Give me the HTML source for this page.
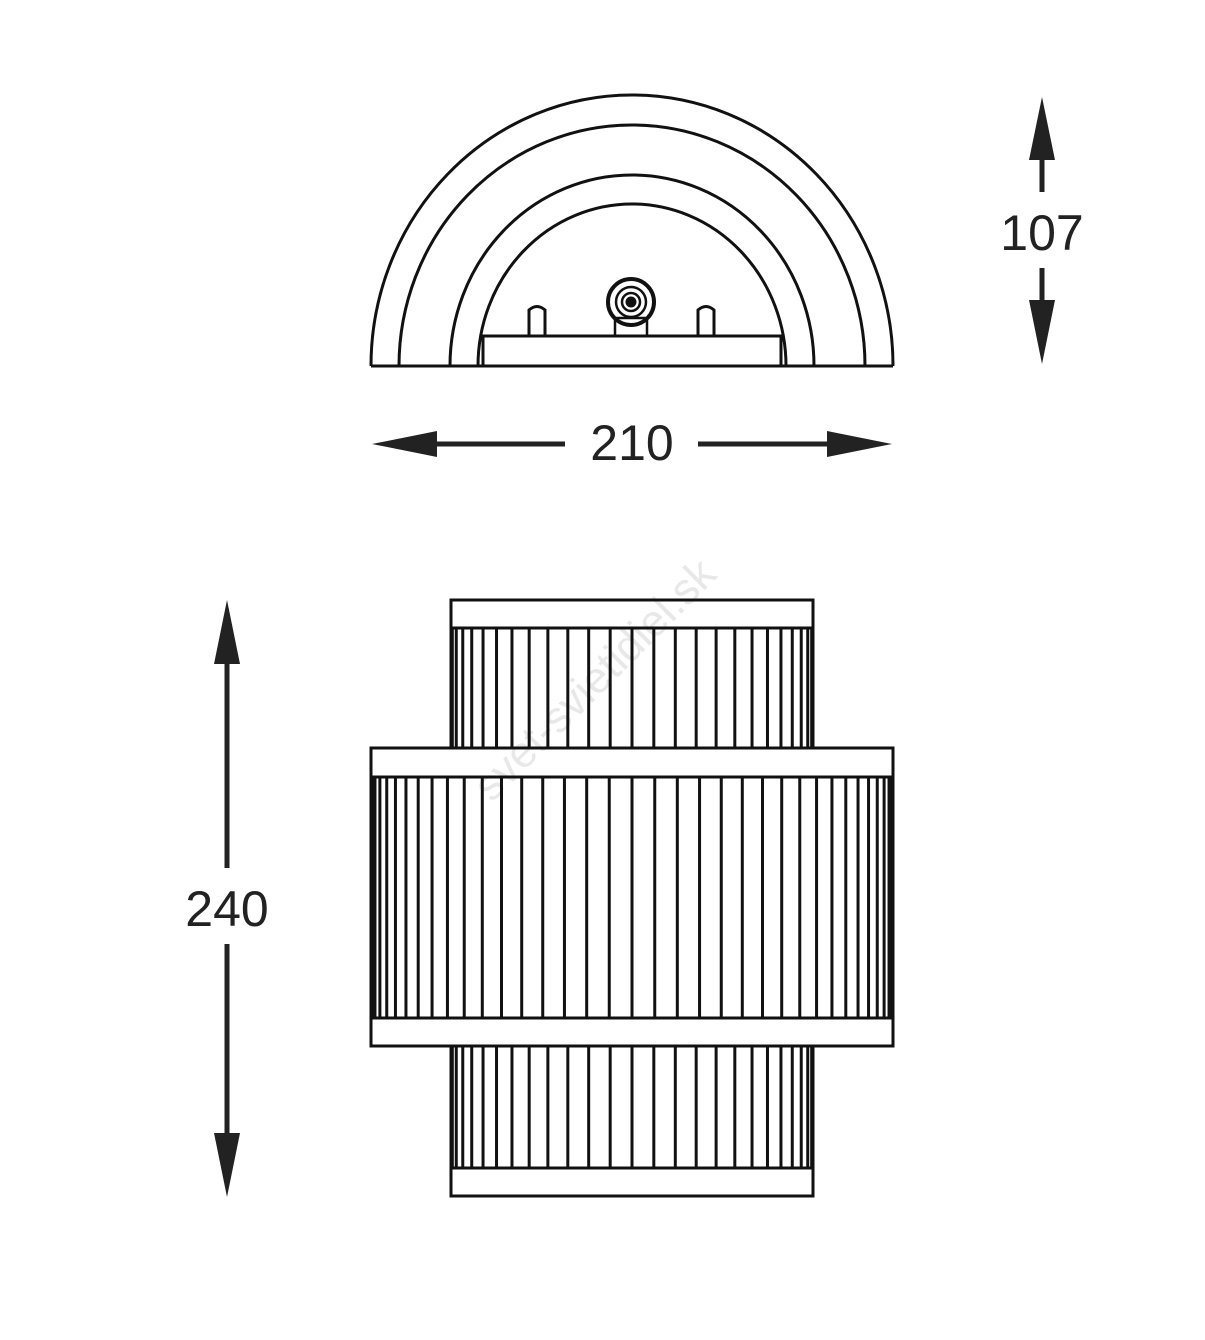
<!DOCTYPE html>
<html><head><style>
html,body{margin:0;padding:0;background:#fff;}
svg{display:block;}
text{font-family:"Liberation Sans",sans-serif;fill:#222;}
</style></head><body>
<svg id="s" width="1205" height="1340" viewBox="0 0 1205 1340" xmlns="http://www.w3.org/2000/svg">
<text x="605" y="690" font-size="44" style="fill:#e8e8e8" transform="rotate(-45 605 690)" text-anchor="middle">svet-svietidiel.sk</text>
<g fill="none" stroke="#111" stroke-width="3">
<path d="M371 366 A261 271 0 0 1 893 366"/>
<path d="M399 366 A233 241 0 0 1 865 366"/>
<path d="M450 366 A182 191 0 0 1 814 366"/>
<path d="M478 366 A154 162 0 0 1 786 366"/>
<line x1="371" y1="366" x2="893" y2="366"/>
<rect x="483" y="336" width="298" height="30"/>
<path d="M529 336 V310 Q537 303 545 310 V336"/>
<path d="M698 336 V310 Q706 303 714 310 V336"/>
<rect x="615" y="318" width="32" height="18" stroke-width="2.5"/>
<circle cx="631" cy="302" r="23" stroke-width="4"/>
<circle cx="631" cy="302" r="15" stroke-width="2.5"/>
<circle cx="631" cy="302" r="9" stroke-width="2.5"/>
<circle cx="631" cy="302" r="4" fill="#111"/>
<rect x="451" y="600" width="362" height="28"/>
<rect x="371" y="748" width="522" height="29"/>
<rect x="371" y="1018" width="522" height="28"/>
<rect x="451" y="1168" width="362" height="28"/>
<line x1="451" y1="628" x2="451" y2="748"/><line x1="813" y1="628" x2="813" y2="748"/>
<line x1="451" y1="1046" x2="451" y2="1168"/><line x1="813" y1="1046" x2="813" y2="1168"/>
<line x1="371" y1="777" x2="371" y2="1018"/><line x1="893" y1="777" x2="893" y2="1018"/>
<g id="rods" stroke-width="3"></g>
</g>
<g fill="#222" stroke="#222">
<line x1="1042" y1="150" x2="1042" y2="192" stroke-width="5"/>
<line x1="1042" y1="268" x2="1042" y2="312" stroke-width="5"/>
<polygon points="1042,97 1029,160 1055,160" stroke="none"/>
<polygon points="1042,364 1029,300 1055,300" stroke="none"/>
<line x1="420" y1="444" x2="565" y2="444" stroke-width="5"/>
<line x1="698" y1="444" x2="845" y2="444" stroke-width="5"/>
<polygon points="372,444 437,431 437,457" stroke="none"/>
<polygon points="892,444 827,431 827,457" stroke="none"/>
<line x1="227" y1="650" x2="227" y2="868" stroke-width="5"/>
<line x1="227" y1="944" x2="227" y2="1150" stroke-width="5"/>
<polygon points="227,600 214,664 240,664" stroke="none"/>
<polygon points="227,1197 214,1133 240,1133" stroke="none"/>
</g>
<text x="1042" y="250" font-size="50" text-anchor="middle">107</text>
<text x="632" y="460" font-size="50" text-anchor="middle">210</text>
<text x="227" y="926" font-size="50" text-anchor="middle">240</text>
</svg>
<script>
var g=document.getElementById('rods'),ns='http://www.w3.org/2000/svg';
function sec(cx,hw,y1,y2,n){
 for(var i=1;i<n;i++){
  var t=-Math.PI/2+Math.PI*i/n;
  var x=cx+hw*Math.sin(t);
  var l=document.createElementNS(ns,'line');
  l.setAttribute('x1',x);l.setAttribute('x2',x);
  l.setAttribute('y1',y1);l.setAttribute('y2',y2);g.appendChild(l);
 }
}
sec(632,181,628,748,26);
sec(632,261,777,1018,36);
sec(632,181,1046,1168,26);
</script>
</body></html>
